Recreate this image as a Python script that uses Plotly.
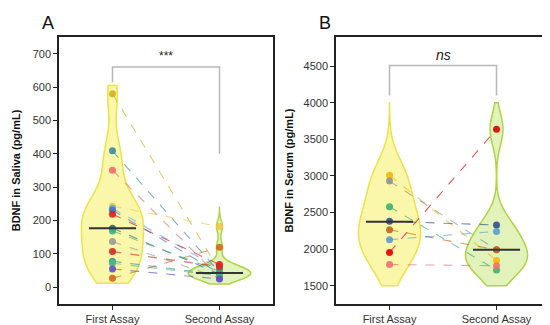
import plotly.graph_objects as go

# ---------------- data ----------------
categories = ["First Assay", "Second Assay"]

saliva_first = [580, 409, 351, 243, 237, 231, 219, 177, 169, 137, 107, 78, 72, 55, 27]
saliva_second = [50, 45, 30, 182, 55, 42, 68, 40, 48, 28, 62, 38, 35, 25, 120]
saliva_colors = ["#d4b020", "#3d8ba0", "#f06a6a", "#f5c842", "#5aa5e0", "#3a78c8", "#e02020",
                 "#2f5f8f", "#3cb371", "#999999", "#d02a2a", "#2a9d8f", "#52b788", "#6050c0", "#d2691e"]
saliva_medians = [177, 43]

serum_first = [3010, 2930, 2580, 2380, 2265, 2130, 1955, 1790]
serum_second = [1846, 1991, 1714, 2330, 1991, 2242, 3640, 1773]
serum_colors = ["#f5b800", "#909090", "#3cb371", "#2f4f8f", "#c0651a", "#5b9bd5", "#e00000", "#f07070"]
serum_medians = [2375, 1990]

saliva_ticks = [0, 100, 200, 300, 400, 500, 600, 700]
serum_ticks = [1500, 2000, 2500, 3000, 3500, 4000, 4500]

saliva_bracket = [614, 660, 660, 400]
serum_bracket = [4100, 4510, 4510, 4100]

# ---------------- figure ----------------
fig = go.Figure()

yellow_line = "#ebe348"
yellow_fill = "rgba(248,240,100,0.55)"
green_line = "#b0d444"
green_fill = "rgba(200,232,130,0.55)"

def add_panel(first, second, colors, medians, xa, ya, spans, bws, bracket):
    fig.add_trace(go.Violin(x0=0, y=first, xaxis=xa, yaxis=ya, points=False, width=0.58,
                            line=dict(color=yellow_line, width=1.5), fillcolor=yellow_fill,
                            spanmode="manual", span=spans[0], bandwidth=bws[0],
                            showlegend=False, hoverinfo="skip"))
    fig.add_trace(go.Violin(x0=1, y=second, xaxis=xa, yaxis=ya, points=False, width=0.58,
                            line=dict(color=green_line, width=1.5), fillcolor=green_fill,
                            spanmode="manual", span=spans[1], bandwidth=bws[1],
                            showlegend=False, hoverinfo="skip"))
    for a, b, c in zip(first, second, colors):
        fig.add_trace(go.Scatter(x=[0, 1], y=[a, b], xaxis=xa, yaxis=ya, mode="lines",
                                 line=dict(color=c, width=1.1, dash="dash"), opacity=0.65,
                                 showlegend=False, hoverinfo="skip"))
    for a, b, c in zip(first, second, colors):
        fig.add_trace(go.Scatter(x=[0, 1], y=[a, b], xaxis=xa, yaxis=ya, mode="markers",
                                 marker=dict(color=c, size=7, opacity=0.9), showlegend=False))
    for i, m in enumerate(medians):
        fig.add_trace(go.Scatter(x=[i - 0.22, i + 0.22], y=[m, m], xaxis=xa, yaxis=ya, mode="lines",
                                 line=dict(color="#333333", width=2), showlegend=False, hoverinfo="skip"))
    fig.add_trace(go.Scatter(x=[0, 0, 1, 1], y=bracket, xaxis=xa, yaxis=ya, mode="lines",
                             line=dict(color="#b8b8b8", width=1.5), showlegend=False, hoverinfo="skip"))

add_panel(saliva_first, saliva_second, saliva_colors, saliva_medians, "x", "y",
          [[12, 605], [10, 240]], [60, 18], saliva_bracket)
add_panel(serum_first, serum_second, serum_colors, serum_medians, "x2", "y2",
          [[1500, 4000], [1500, 4000]], [300, 220], serum_bracket)

axis_common = dict(showline=True, linecolor="#222222", linewidth=1.5, mirror=True,
                   ticks="outside", ticklen=4, tickcolor="#222222", showgrid=False, zeroline=False,
                   tickfont=dict(family="Liberation Sans, Arial", size=11, color="#333333"))

title_font = dict(family="Liberation Sans, Arial", size=11, color="#111111")
letter_font = dict(family="Liberation Sans, Arial", size=18, color="#111111")

fig.update_layout(
    width=550, height=325,
    margin=dict(l=0, r=0, t=0, b=0),
    paper_bgcolor="white", plot_bgcolor="white",
    violinmode="overlay",
    xaxis=dict(domain=[0.0927, 0.4818], range=[-0.5, 1.5], tickvals=[0, 1], ticktext=categories,
               anchor="y", **axis_common),
    yaxis=dict(domain=[0.0892, 0.9108], range=[-50, 750], tickvals=saliva_ticks, anchor="x",
               title=dict(text="<b>BDNF in Saliva (pg/mL)</b>", standoff=10, font=title_font),
               **axis_common),
    xaxis2=dict(domain=[0.5964, 0.9855], range=[-0.5, 1.5], tickvals=[0, 1], ticktext=categories,
                anchor="y2", **axis_common),
    yaxis2=dict(domain=[0.0892, 0.9108], range=[1250, 4900], tickvals=serum_ticks, anchor="x2",
                title=dict(text="<b>BDNF in Serum (pg/mL)</b>", standoff=8, font=title_font),
                **axis_common),
    annotations=[
        dict(text="A", x=40 / 550, y=1 - 15 / 325, xref="paper", yref="paper", showarrow=False,
             xanchor="center", yanchor="middle", font=letter_font),
        dict(text="B", x=317 / 550, y=1 - 15 / 325, xref="paper", yref="paper", showarrow=False,
             xanchor="center", yanchor="middle", font=letter_font),
        dict(text="***", x=0.5, y=660, xref="x", yref="y", yanchor="bottom", showarrow=False, yshift=2,
             font=dict(family="Liberation Sans, Arial", size=12, color="#222222")),
        dict(text="<i>ns</i>", x=0.5, y=4510, xref="x2", yref="y2", yanchor="bottom", showarrow=False,
             yshift=1, font=dict(family="Liberation Sans, Arial", size=14, color="#222222")),
    ],
)

fig.write_html("out.html")
